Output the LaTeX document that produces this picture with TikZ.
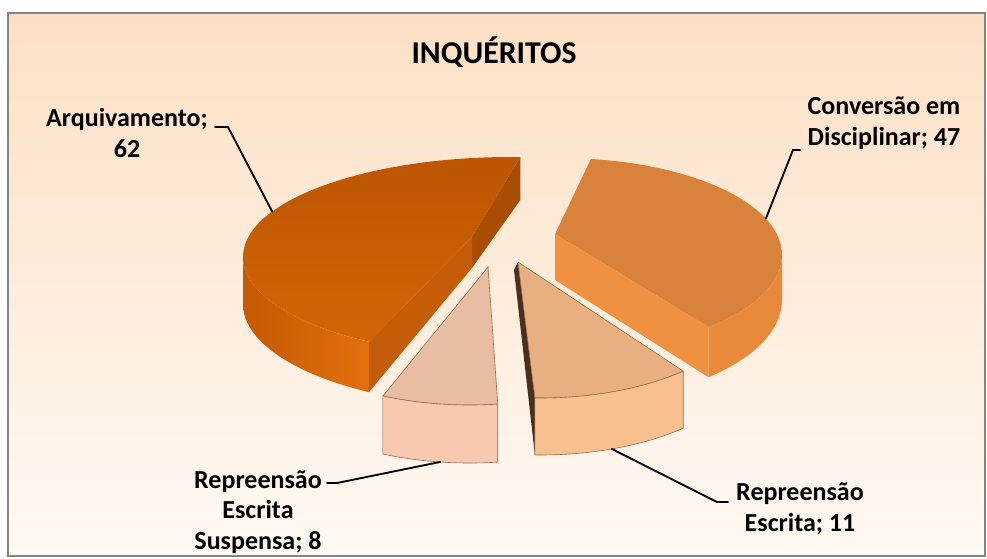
\documentclass[tikz,border=0pt]{standalone}
\usepackage{fontspec}
\setmainfont{Carlito}

\definecolor{bgTop}{HTML}{FCE0C5}
\definecolor{bgBot}{HTML}{FFF9F3}
\definecolor{frameGray}{HTML}{858585}
\definecolor{arqTopB}{HTML}{BD5500}
\definecolor{arqTopF}{HTML}{D26608}
\definecolor{arqWallL}{HTML}{C45A04}
\definecolor{arqWallR}{HTML}{E3700E}
\definecolor{arqCutB}{HTML}{A94C04}
\definecolor{arqCutF}{HTML}{C55C08}
\definecolor{convTop}{HTML}{D9823B}
\definecolor{convFace}{HTML}{EF9140}
\definecolor{convWall}{HTML}{E98A3A}
\definecolor{reTop}{HTML}{E8AF80}
\definecolor{reWall}{HTML}{F6C08F}
\definecolor{reCut}{HTML}{4A2F1C}
\definecolor{resTop}{HTML}{E9BCA4}
\definecolor{resWall}{HTML}{F7CAAF}
\definecolor{sliceLine}{HTML}{9A6A4C}

\begin{document}
\begin{tikzpicture}[x=0.75pt,y=-0.75pt,
  lbl/.style={font=\bfseries\fontsize{19.5}{22.9}\selectfont,align=center,inner sep=0pt},
  leader/.style={line width=1.4pt,line cap=round},
  rim/.style={draw=sliceLine,line width=0.45pt}]

\useasboundingbox (0,0) rectangle (987,558);
\fill[white] (0,0) rectangle (987,558);
\shadedraw[top color=bgTop,bottom color=bgBot,draw=frameGray,line width=1.5pt]
  (7.5,12.5) rectangle (984.5,556);

\node[font=\bfseries\fontsize{23.8}{28}\selectfont] (title) at (494,52) {INQUÉRITOS};

% Arquivamento
\coordinate (arqC) at (511,257);
\coordinate (arqD) at (511,304);
\coordinate (arqA) at (472,237);
\coordinate (arqAd) at (472,268);
\coordinate (arqK) at ([shift={(272:268 and 100)}]arqC);
\coordinate (arqKd) at ([shift={(272:268 and 104)}]arqD);
\coordinate (arqF) at ([shift={(122:268 and 100)}]arqC);
\coordinate (arqFd) at ([shift={(122:268 and 104)}]arqD);
\coordinate (arqL) at ([shift={(180:268 and 100)}]arqC);

\shade[top color=arqTopB,bottom color=arqTopF]
  (arqA) -- (arqK) arc[start angle=272,end angle=122,x radius=268,y radius=100] -- cycle;
\shade[left color=arqWallL,right color=arqWallR]
  (arqL) arc[start angle=180,end angle=122,x radius=268,y radius=100]
  -- (arqFd) arc[start angle=122,end angle=180,x radius=268,y radius=104] -- cycle;
\fill[arqCutB] (arqK) -- (arqA) -- (arqAd) -- (arqKd) -- cycle;
\fill[arqCutF] (arqA) -- (arqF) -- (arqFd) -- (arqAd) -- cycle;

% Conversao em Disciplinar
\coordinate (convC) at (560,255);
\coordinate (convD) at (560,300);
\coordinate (convA) at (555,234);
\coordinate (convAd) at (555,280);
\coordinate (convK) at ([shift={(278:222 and 97)}]convC);
\coordinate (convF) at ([shift={(48:222 and 97)}]convC);
\coordinate (convFd) at ([shift={(48:222 and 104)}]convD);
\coordinate (convR) at ([shift={(0:222 and 97)}]convC);

\fill[convTop]
  (convA) -- (convK) arc[start angle=278,end angle=408,x radius=222,y radius=97] -- cycle;
\fill[convWall]
  (convR) arc[start angle=0,end angle=48,x radius=222,y radius=97]
  -- (convFd) arc[start angle=48,end angle=0,x radius=222,y radius=104] -- cycle;
\fill[convFace] (convA) -- (convF) -- (convFd) -- (convAd) -- cycle;

% Repreensao Escrita
\coordinate (reC) at (540,298);
\coordinate (reD) at (540,355);
\coordinate (reA) at (518,262);
\coordinate (reAd) at (514,270);
\coordinate (reK) at ([shift={(47:210 and 100)}]reC);
\coordinate (reF) at ([shift={(91.4:210 and 100)}]reC);
\coordinate (reFd) at ([shift={(91.4:210 and 100)}]reD);

\fill[reCut] (reA) -- (reF) -- (reFd) -- (reAd) -- cycle;
\fill[reTop,rim]
  (reA) -- (reK) arc[start angle=47,end angle=91.4,x radius=210,y radius=100] -- cycle;
\fill[reWall,rim]
  (reK) arc[start angle=47,end angle=91.4,x radius=210,y radius=100]
  -- (reFd) arc[start angle=91.4,end angle=47,x radius=210,y radius=100] -- cycle;

% Repreensao Escrita Suspensa
\coordinate (resC) at (470,305);
\coordinate (resD) at (470,363);
\coordinate (resA) at (488,267);
\coordinate (resK) at ([shift={(82.4:210 and 100)}]resC);
\coordinate (resFd) at ([shift={(114.5:210 and 100)}]resD);

\fill[resTop,rim]
  (resA) -- (resK) arc[start angle=82.4,end angle=114.5,x radius=210,y radius=100] -- cycle;
\fill[resWall,rim]
  (resK) arc[start angle=82.4,end angle=114.5,x radius=210,y radius=100]
  -- (resFd) arc[start angle=114.5,end angle=82.4,x radius=210,y radius=100] -- cycle;

% labels
\node[lbl] (arqLbl) at (127,133) {Arquivamento;\\62};
\node[lbl] (convLbl) at (884,123) {Conversão em\\Disciplinar; 47};
\node[lbl] (reLbl) at (800,509) {Repreensão\\Escrita; 11};
\node[lbl] (resLbl) at (258,512) {Repreensão\\Escrita\\Suspensa; 8};

\coordinate (arqT1) at (215,127);
\coordinate (arqT2) at (228,127);
\coordinate (arqE) at ([shift={(207:268 and 100)}]arqC);
\coordinate (convT1) at (800,150);
\coordinate (convT2) at (793,150);
\coordinate (convE) at ([shift={(338:222 and 97)}]convC);
\coordinate (reT1) at (728,502);
\coordinate (reT2) at (717,502);
\coordinate (reE) at ([shift={(70:210 and 100)}]reD);
\coordinate (resT1) at (327,483);
\coordinate (resT2) at (337,483);
\coordinate (resE) at ([shift={(98.2:210 and 100)}]resD);

\draw[leader] (arqT1) -- (arqT2) -- (arqE);
\draw[leader] (convT1) -- (convT2) -- (convE);
\draw[leader] (reT1) -- (reT2) -- (reE);
\draw[leader] (resT1) -- (resT2) -- (resE);

\end{tikzpicture}
\end{document}
